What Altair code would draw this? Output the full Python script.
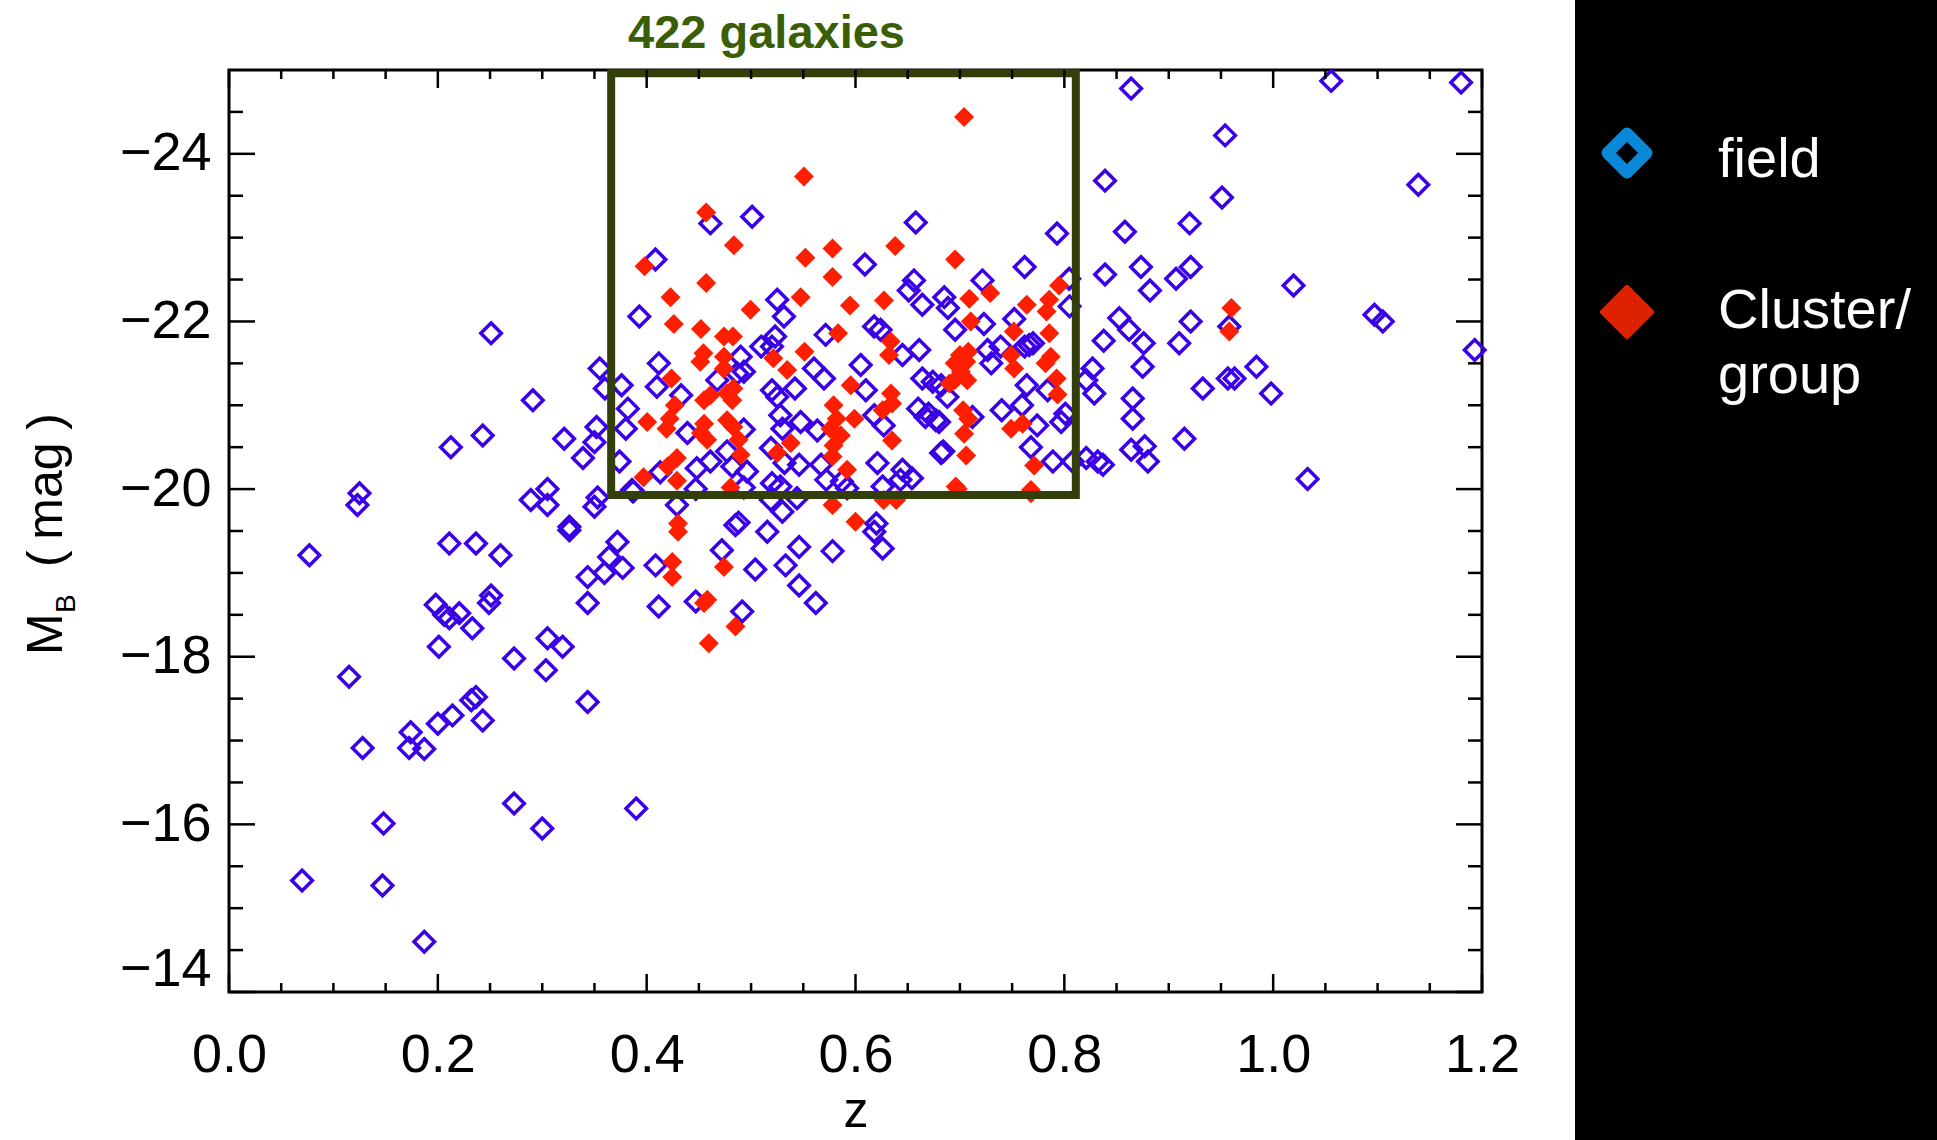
import altair as alt
import pandas as pd

# ---------------- data ----------------
field_z = [0.251, 0.355, 0.360, 0.376, 0.291, 0.382, 0.352, 0.380, 0.243, 0.2125, 0.321, 0.350, 0.339, 0.374,
           0.125, 0.123, 0.289, 0.305, 0.305, 0.353, 0.350, 0.387, 0.326,
           0.077, 0.211, 0.2365, 0.260, 0.326, 0.372, 0.364, 0.3435, 0.3595, 0.377, 0.3435, 0.198, 0.206, 0.211,
           0.2205, 0.251, 0.249, 0.233, 0.201, 0.305, 0.3195, 0.273, 0.3035, 0.115, 0.2365, 0.232, 0.3435, 0.214,
           0.200, 0.243, 0.174, 0.1725, 0.187, 0.128, 0.273, 0.300, 0.390, 0.148, 0.070, 0.147, 0.187,
           0.429, 0.485, 0.488, 0.5155, 0.530, 0.544, 0.519, 0.620, 0.618, 0.626, 0.4085, 0.472, 0.504, 0.533,
           0.546, 0.578, 0.546, 0.562, 0.4115, 0.447, 0.4915,
           0.461, 0.501, 0.6577, 0.793, 0.4084, 0.609, 0.762, 0.656, 0.7216, 0.8047, 0.651, 0.525, 0.685, 0.664,
           0.805, 0.6885, 0.393, 0.5315, 0.723, 0.752, 0.6178, 0.624, 0.5714, 0.6954, 0.7664, 0.770, 0.762, 0.523,
           0.520, 0.645, 0.661, 0.7265, 0.739, 0.490, 0.5097, 0.4116, 0.605, 0.5602, 0.730, 0.664, 0.674, 0.682,
           0.5698, 0.4867, 0.4931, 0.4676, 0.764, 0.6099, 0.4098, 0.520, 0.525, 0.542, 0.660, 0.670, 0.680, 0.688,
           0.7595, 0.740, 0.784, 0.801, 0.797, 0.433, 0.439, 0.493, 0.528, 0.530, 0.5475, 0.5634, 0.618, 0.627,
           0.667, 0.677, 0.712, 0.774, 0.768, 0.789, 0.808, 0.413, 0.448, 0.461, 0.447, 0.477, 0.482, 0.496, 0.493,
           0.519, 0.532, 0.546, 0.528, 0.520, 0.567, 0.572, 0.587, 0.592, 0.621, 0.626, 0.645, 0.643, 0.654, 0.682,
           0.684, 0.386,
           0.864, 1.0556, 1.180, 0.954, 0.839, 1.139, 0.951, 0.920, 0.858, 0.839, 0.8734, 0.882, 0.907, 0.921,
           1.0195, 0.958, 1.097, 1.105, 1.193, 0.8526, 0.862, 0.921, 0.8377, 0.876, 0.910, 0.827, 0.821, 0.875,
           0.984, 0.9566, 0.963, 0.8287, 0.8655, 0.9326, 0.998, 0.8655, 0.864, 0.877, 0.880, 0.915, 0.832, 0.837,
           0.821, 1.033]
field_mb = [-21.86, -21.44, -21.20, -21.24, -21.06, -20.96, -20.74, -20.72, -20.64, -20.50, -20.60, -20.56, -20.37, -20.33,
            -19.95, -19.81, -19.87, -20.00, -19.81, -19.90, -19.79, -19.97, -19.55,
            -19.21, -19.35, -19.35, -19.21, -19.51, -19.37, -19.19, -18.95, -19.00, -19.06, -18.64, -18.62, -18.50, -18.46,
            -18.52, -18.73, -18.64, -18.34, -18.12, -18.22, -18.12, -17.98, -17.84, -17.76, -17.52, -17.48, -17.46, -17.30,
            -17.20, -17.24, -17.10, -16.91, -16.90, -16.91, -16.25, -15.95, -16.19, -16.01, -15.33, -15.27, -14.60,
            -19.81, -19.57, -19.60, -19.49, -19.73, -19.89, -19.87, -19.59, -19.49, -19.29, -19.09, -19.27, -19.04, -19.09,
            -19.31, -19.26, -18.85, -18.64, -18.60, -18.66, -18.54,
            -23.17, -23.25, -23.18, -23.05, -22.74, -22.68, -22.65, -22.49, -22.49, -22.51, -22.37, -22.26, -22.29, -22.20,
            -22.18, -22.16, -22.06, -22.06, -21.97, -22.03, -21.94, -21.90, -21.84, -21.90, -21.72, -21.74, -21.70, -21.82,
            -21.70, -21.60, -21.66, -21.66, -21.70, -21.58, -21.70, -21.50, -21.48, -21.44, -21.50, -21.32, -21.28, -21.24,
            -21.32, -21.38, -21.40, -21.30, -21.24, -21.18, -21.22, -21.18, -21.10, -21.20, -20.96, -20.90, -20.80, -21.10,
            -21.00, -20.94, -21.18, -20.90, -20.80, -21.12, -20.67, -20.71, -20.88, -20.72, -20.80, -20.70, -20.88, -20.76,
            -20.86, -20.82, -20.86, -20.76, -20.50, -20.33, -20.33, -20.20, -20.25, -20.33, -20.00, -20.45, -20.27, -20.21, -20.02,
            -20.49, -20.31, -20.29, -20.03, -20.07, -20.29, -20.11, -20.09, -20.01, -20.31, -20.03, -20.23, -20.11, -20.13, -20.43,
            -20.45, -19.99,
            -24.78, -24.87, -24.85, -24.22, -23.68, -23.63, -23.48, -23.17, -23.07, -22.56, -22.65, -22.37, -22.51, -22.65,
            -22.43, -21.94, -22.08, -22.00, -21.66, -22.04, -21.90, -22.00, -21.77, -21.74, -21.74, -21.44, -21.30, -21.46,
            -21.46, -21.32, -21.32, -21.14, -21.08, -21.20, -21.14, -20.84, -20.47, -20.51, -20.33, -20.60, -20.33, -20.29,
            -20.37, -20.12]

cluster_z = [0.430, 0.430, 0.578, 0.600, 0.627, 0.639, 0.698, 0.768, 0.4245, 0.4245, 0.474, 0.455, 0.458, 0.485, 0.4595,
             0.704, 0.5506, 0.457, 0.4835, 0.552, 0.578, 0.638, 0.6954, 0.398, 0.578, 0.457, 0.795, 0.729, 0.4228,
             0.5475, 0.709, 0.6273, 0.764, 0.7855, 0.5947, 0.4995, 0.783, 0.426, 0.7104, 0.452, 0.474, 0.4826, 0.5833,
             0.7516, 0.7856, 0.6337, 0.6321, 0.5512, 0.4544, 0.4513, 0.474, 0.474, 0.5213, 0.700, 0.708, 0.695, 0.706,
             0.749, 0.752, 0.782, 0.787, 0.5346, 0.4238, 0.695, 0.701, 0.707, 0.690, 0.5954, 0.7926, 0.483, 0.477,
             0.461, 0.455, 0.482, 0.634, 0.635, 0.626, 0.703, 0.708, 0.7935, 0.4005, 0.427, 0.422, 0.419, 0.455, 0.452,
             0.458, 0.477, 0.483, 0.488, 0.490, 0.579, 0.582, 0.576, 0.586, 0.579, 0.599, 0.635, 0.704, 0.706, 0.749,
             0.760, 0.771, 0.397, 0.420, 0.429, 0.429, 0.4803, 0.525, 0.538, 0.578, 0.592, 0.696, 0.768, 0.960, 0.958]
cluster_mb = [-19.59, -19.49, -19.81, -19.61, -19.87, -19.87, -20.00, -19.95, -19.13, -18.95, -19.07, -18.64, -18.68, -18.36, -18.16,
              -24.44, -23.73, -23.30, -22.91, -22.76, -22.87, -22.90, -22.74, -22.66, -22.53, -22.46, -22.43, -22.34, -22.29,
              -22.29, -22.27, -22.25, -22.20, -22.26, -22.19, -22.14, -22.12, -21.97, -22.00, -21.91, -21.82, -21.82, -21.86,
              -21.88, -21.86, -21.76, -21.60, -21.64, -21.62, -21.52, -21.58, -21.44, -21.56, -21.60, -21.64, -21.50, -21.52,
              -21.60, -21.44, -21.50, -21.58, -21.42, -21.32, -21.30, -21.40, -21.30, -21.26, -21.24, -21.32, -21.20, -21.14,
              -21.12, -21.06, -21.06, -21.14, -21.02, -20.94, -20.94, -20.84, -21.13, -20.80, -21.00, -20.84, -20.72, -20.78, -20.67,
              -20.59, -20.82, -20.74, -20.59, -20.41, -21.00, -20.84, -20.72, -20.64, -20.52, -20.84, -20.58, -20.66, -20.40, -20.72,
              -20.78, -20.28, -20.14, -20.27, -20.37, -20.10, -20.02, -20.43, -20.55, -20.39, -20.23, -20.03, -19.99, -22.16, -21.88]

box_z = [0.366, 0.811]
box_mb = [-24.96, -19.93]
box_label = "422 galaxies"

x_major = [0.0, 0.2, 0.4, 0.6, 0.8, 1.0, 1.2]
x_minor = [0.05, 0.1, 0.15, 0.25, 0.3, 0.35, 0.45, 0.5, 0.55, 0.65, 0.7, 0.75, 0.85, 0.9, 0.95, 1.05, 1.1, 1.15]
y_major = [-24, -22, -20, -18, -16, -14]
y_minor = [-24.5, -23.5, -23, -22.5, -21.5, -21, -20.5, -19.5, -19, -18.5, -17.5, -17, -16.5, -15.5, -15, -14.5]

legend_labels = ["field", "Cluster/", "group"]
x_title = "z"
y_title_parts = ["M", "B", "(", "mag", ")"]

# ---------------- styling ----------------
W, H = 1253, 922
FONT = "Liberation Sans"
BLUE = "#3a00e6"
RED = "#ff1e00"
GREEN_BOX = "#333f0a"
GREEN_TXT = "#3a5e06"

xs = alt.Scale(domain=[0, 1.2], nice=False, zero=False)
ys = alt.Scale(domain=[-25, -14], reverse=True, nice=False, zero=False)

XAXIS = alt.Axis(
    values=x_major, format=".1f", ticks=False, domain=False, grid=False,
    labelFontSize=54, labelFont=FONT, labelColor="black", labelPadding=36,
    labelFlush=False, labelOverlap=False,
    title=x_title, titleFont=FONT, titleFontSize=50, titleFontWeight="normal",
    titleColor="black", titlePadding=4)
YAXIS = alt.Axis(
    values=y_major, format="d", ticks=False, domain=False, grid=False,
    labelFontSize=54, labelFont=FONT, labelColor="black", labelPadding=18,
    labelFlush=True, labelFlushOffset=4, labelOverlap=False, title=None)

one = pd.DataFrame({"k": [0]})

# black legend panel (behind everything on the right)
panel = alt.Chart(one).mark_rect(color="black").encode(
    x=alt.value(1346), x2=alt.value(1708), y=alt.value(-70), y2=alt.value(1070))

field_df = pd.DataFrame({"z": field_z, "mb": field_mb})
cluster_df = pd.DataFrame({"z": cluster_z, "mb": cluster_mb})

field_pts = alt.Chart(field_df).mark_point(
    shape="diamond", filled=False, size=420, strokeWidth=3.5, color=BLUE, opacity=1
).encode(
    x=alt.X("z:Q", scale=xs, axis=XAXIS),
    y=alt.Y("mb:Q", scale=ys, axis=YAXIS),
)

cluster_pts = alt.Chart(cluster_df).mark_point(
    shape="diamond", filled=True, size=400, color=RED, opacity=1
).encode(
    x=alt.X("z:Q", scale=xs, axis=XAXIS),
    y=alt.Y("mb:Q", scale=ys, axis=YAXIS),
)

box_df = pd.DataFrame({"z": [box_z[0]], "z2": [box_z[1]], "mb": [box_mb[0]], "mb2": [box_mb[1]]})
box = alt.Chart(box_df).mark_rect(fillOpacity=0, stroke=GREEN_BOX, strokeWidth=8).encode(
    x=alt.X("z:Q", scale=xs, axis=XAXIS), x2="z2:Q",
    y=alt.Y("mb:Q", scale=ys, axis=YAXIS), y2="mb2:Q")

box_text = alt.Chart(one).mark_text(
    align="left", baseline="alphabetic", font=FONT, fontSize=47, fontWeight="bold", color=GREEN_TXT
).encode(x=alt.value(399), y=alt.value(-22), text=alt.value(box_label))

# inward ticks on all four sides
def xticks(vals, length):
    d = pd.DataFrame({"z": vals})
    bot = alt.Chart(d).mark_rule(color="black", strokeWidth=2.5).encode(
        x=alt.X("z:Q", scale=xs, axis=XAXIS), y=alt.value(H), y2=alt.value(H - length))
    top = alt.Chart(d).mark_rule(color="black", strokeWidth=2.5).encode(
        x=alt.X("z:Q", scale=xs, axis=XAXIS), y=alt.value(0), y2=alt.value(length))
    return [bot, top]

def yticks(vals, length):
    d = pd.DataFrame({"mb": vals})
    left = alt.Chart(d).mark_rule(color="black", strokeWidth=2.5).encode(
        y=alt.Y("mb:Q", scale=ys, axis=YAXIS), x=alt.value(0), x2=alt.value(length))
    right = alt.Chart(d).mark_rule(color="black", strokeWidth=2.5).encode(
        y=alt.Y("mb:Q", scale=ys, axis=YAXIS), x=alt.value(W), x2=alt.value(W - length))
    return [left, right]

ticks = xticks(x_major, 18) + xticks(x_minor, 9) + yticks(y_major, 26) + yticks(y_minor, 14)

# y title  M_B (mag)
def ytext(txt, xpos, ypos, size, align="left"):
    return alt.Chart(one).mark_text(
        angle=270, align=align, baseline="alphabetic", font=FONT, fontSize=size, color="black"
    ).encode(x=alt.value(xpos), y=alt.value(ypos), text=alt.value(txt))

ytitle = [
    ytext(y_title_parts[0], -167, 585, 50),
    ytext(y_title_parts[1], -154, 543, 28),
    ytext(y_title_parts[2], -167, 497, 50),
    ytext(y_title_parts[3], -167, 421, 50, "center"),
    ytext(y_title_parts[4], -167, 343, 50, "right"),
]

# custom legend on the black panel
leg_field = alt.Chart(one).mark_point(
    shape="diamond", filled=False, size=1521, strokeWidth=12, color="#0a88d8", strokeJoin="round", opacity=1
).encode(x=alt.value(1398), y=alt.value(83))
leg_cluster = alt.Chart(one).mark_point(
    shape="diamond", filled=True, size=2300, fill="#dd2200", stroke="#dd2200", strokeWidth=6,
    strokeJoin="round", opacity=1
).encode(x=alt.value(1398), y=alt.value(242))

def ltext(txt, ypos):
    return alt.Chart(one).mark_text(
        align="left", baseline="alphabetic", font=FONT, fontSize=56, color="white"
    ).encode(x=alt.value(1489), y=alt.value(ypos), text=alt.value(txt))

legend = [leg_field, leg_cluster, ltext(legend_labels[0], 107), ltext(legend_labels[1], 258),
          ltext(legend_labels[2], 323)]

chart = alt.layer(
    panel, field_pts, cluster_pts, box, box_text, *ticks, *ytitle, *legend
).properties(
    width=W, height=H,
    autosize=alt.AutoSizeParams(type="none"),
    padding={"left": 229, "top": 70, "right": 455, "bottom": 148},
).configure(background="white").configure_view(stroke="black", strokeWidth=3)

chart.save("out.html", embed_options={"renderer": "svg", "actions": False})
